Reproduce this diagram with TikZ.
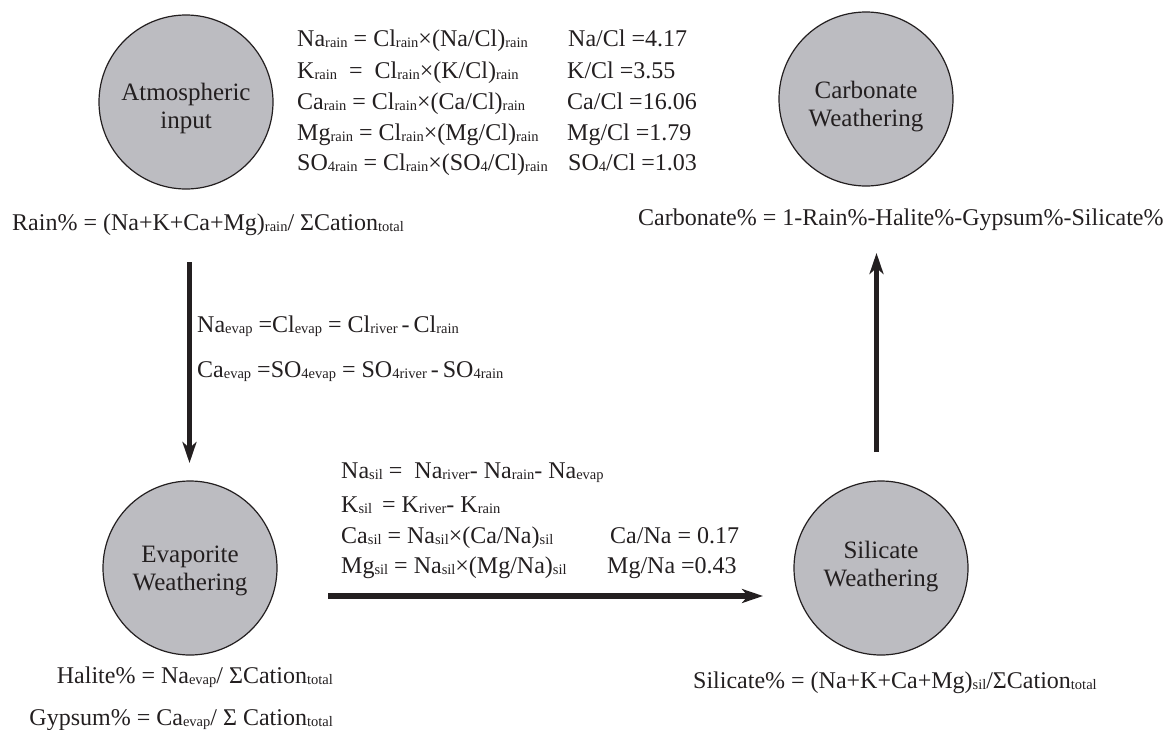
\documentclass[tikz,border=0pt]{standalone}
\usepackage{fontspec}
\setmainfont{Liberation Serif}
\usepackage{xcolor}
\usepackage{tikz}
\usetikzlibrary{arrows.meta}

\definecolor{inkblack}{RGB}{35,31,32}
\definecolor{bubblegray}{RGB}{188,188,193}

\newcommand{\lo}[1]{\raisebox{-1.5pt}{\fontsize{14.5}{14.5}\selectfont #1}}
\newcommand{\eqfont}{\fontsize{24}{28}\selectfont}
\newcommand{\circfont}{\fontsize{25}{28}\selectfont}

\begin{document}
\begin{tikzpicture}[x=1pt, y=-1pt,
    ->, >={Stealth[length=21pt, width=14pt, inset=6pt]},
    bubble/.style={circle, draw = inkblack, fill = bubblegray,
        line width = 1.2pt, minimum size = 174pt, inner sep = 0pt},
    bubbletext/.style={align = center, text = inkblack, font = \circfont},
    eqtext/.style={anchor = base west, inner sep = 0pt, text = inkblack, font = \eqfont},
    arrowline/.style={line width = 5.5pt, draw = inkblack}]

    \useasboundingbox (0,0) rectangle (1163,729);

    \node[bubble] (atm) at (186,102) {};
    \node[bubbletext] (atmlabel) at ([yshift=-6pt]atm.center) {Atmospheric\\input};

    \node[bubble] (carb) at (866,99) {};
    \node[bubbletext] (carblabel) at ([yshift=-8pt]carb.center) {Carbonate\\Weathering};

    \node[bubble] (evap) at (190,568) {};
    \node[bubbletext] (evaplabel) at ([yshift=-3pt]evap.center) {Evaporite\\Weathering};

    \node[bubble] (sil) at (881,568) {};
    \node[bubbletext] (sillabel) at ([yshift=1pt]sil.center) {Silicate\\Weathering};

    % rain input
    \node[eqtext] (rainNa) at (297,46) {Na\lo{rain} = Cl\lo{rain}×(Na/Cl)\lo{rain}};
    \node[eqtext] (rainK) at (297,78) {K\lo{rain}\hspace{12pt}= \ Cl\lo{rain}×(K/Cl)\lo{rain}};
    \node[eqtext] (rainCa) at (297,109) {Ca\lo{rain}\ = Cl\lo{rain}×(Ca/Cl)\lo{rain}};
    \node[eqtext] (rainMg) at (297,140) {Mg\lo{rain} = Cl\lo{rain}×(Mg/Cl)\lo{rain}};
    \node[eqtext] (rainSO) at (297,170) {SO\lo{4rain} = Cl\lo{rain}×(SO\lo{4}/Cl)\lo{rain}};
    \node[eqtext] (ratioNa) at (568,46) {Na/Cl =4.17};
    \node[eqtext] (ratioK) at (567,78) {K/Cl =3.55};
    \node[eqtext] (ratioCa) at (567,109) {Ca/Cl =16.06};
    \node[eqtext] (ratioMg) at (567,140) {Mg/Cl =1.79};
    \node[eqtext] (ratioSO) at (568,170) {SO\lo{4}/Cl =1.03};
    \node[eqtext] (rainpct) at (12,230) {Rain\% = (Na+K+Ca+Mg)\lo{rain}/ ΣCation\lo{total}};

    \node[eqtext] (carbpct) at (638,225) {Carbonate\% = 1-Rain\%-Halite\%-Gypsum\%-Silicate\%};

    % evaporite
    \node[eqtext] (evapNa) at (197,332) {Na\lo{evap} =Cl\lo{evap} = Cl\lo{river}\,-\,Cl\lo{rain}};
    \node[eqtext] (evapCa) at (197,377) {Ca\lo{evap} =SO\lo{4evap} = SO\lo{4river}\,-\,SO\lo{4rain}};
    \node[anchor = base east, inner sep = 0pt, text = inkblack, font = \eqfont] (halpct) at (333,683) {Halite\% = Na\lo{evap}/ ΣCation\lo{total}};
    \node[anchor = base east, inner sep = 0pt, text = inkblack, font = \eqfont] (gyppct) at (333,725) {Gypsum\% = Ca\lo{evap}/ Σ Cation\lo{total}};

    % silicate
    \node[eqtext] (silNa) at (341,478) {Na\lo{sil} = \ Na\lo{river}- Na\lo{rain}- Na\lo{evap}};
    \node[eqtext] (silK) at (341,512) {K\lo{sil}\hspace{10pt}= K\lo{river}- K\lo{rain}};
    \node[eqtext] (silCa) at (341,543) {Ca\lo{sil}\ = Na\lo{sil}×(Ca/Na)\lo{sil}};
    \node[eqtext] (silMg) at (341,573) {Mg\lo{sil} = Na\lo{sil}×(Mg/Na)\lo{sil}};
    \node[eqtext] (ratioCaNa) at (610,543) {Ca/Na = 0.17};
    \node[eqtext] (ratioMgNa) at (607,573) {Mg/Na =0.43};
    \node[eqtext] (silpct) at (693,688) {Silicate\% = (Na+K+Ca+Mg)\lo{sil}/ΣCation\lo{total}};

    \coordinate (downtail) at (189.5,262);
    \coordinate (downtip) at (189.5,463);
    \coordinate (righttail) at (328,596);
    \coordinate (righttip) at (763,596);
    \coordinate (uptail) at (876.5,452);
    \coordinate (uptip) at (876.5,253);

    \path
    (downtail) edge [arrowline] (downtip)
    (righttail) edge [arrowline] (righttip)
    (uptail) edge [arrowline] (uptip);

\end{tikzpicture}
\end{document}
